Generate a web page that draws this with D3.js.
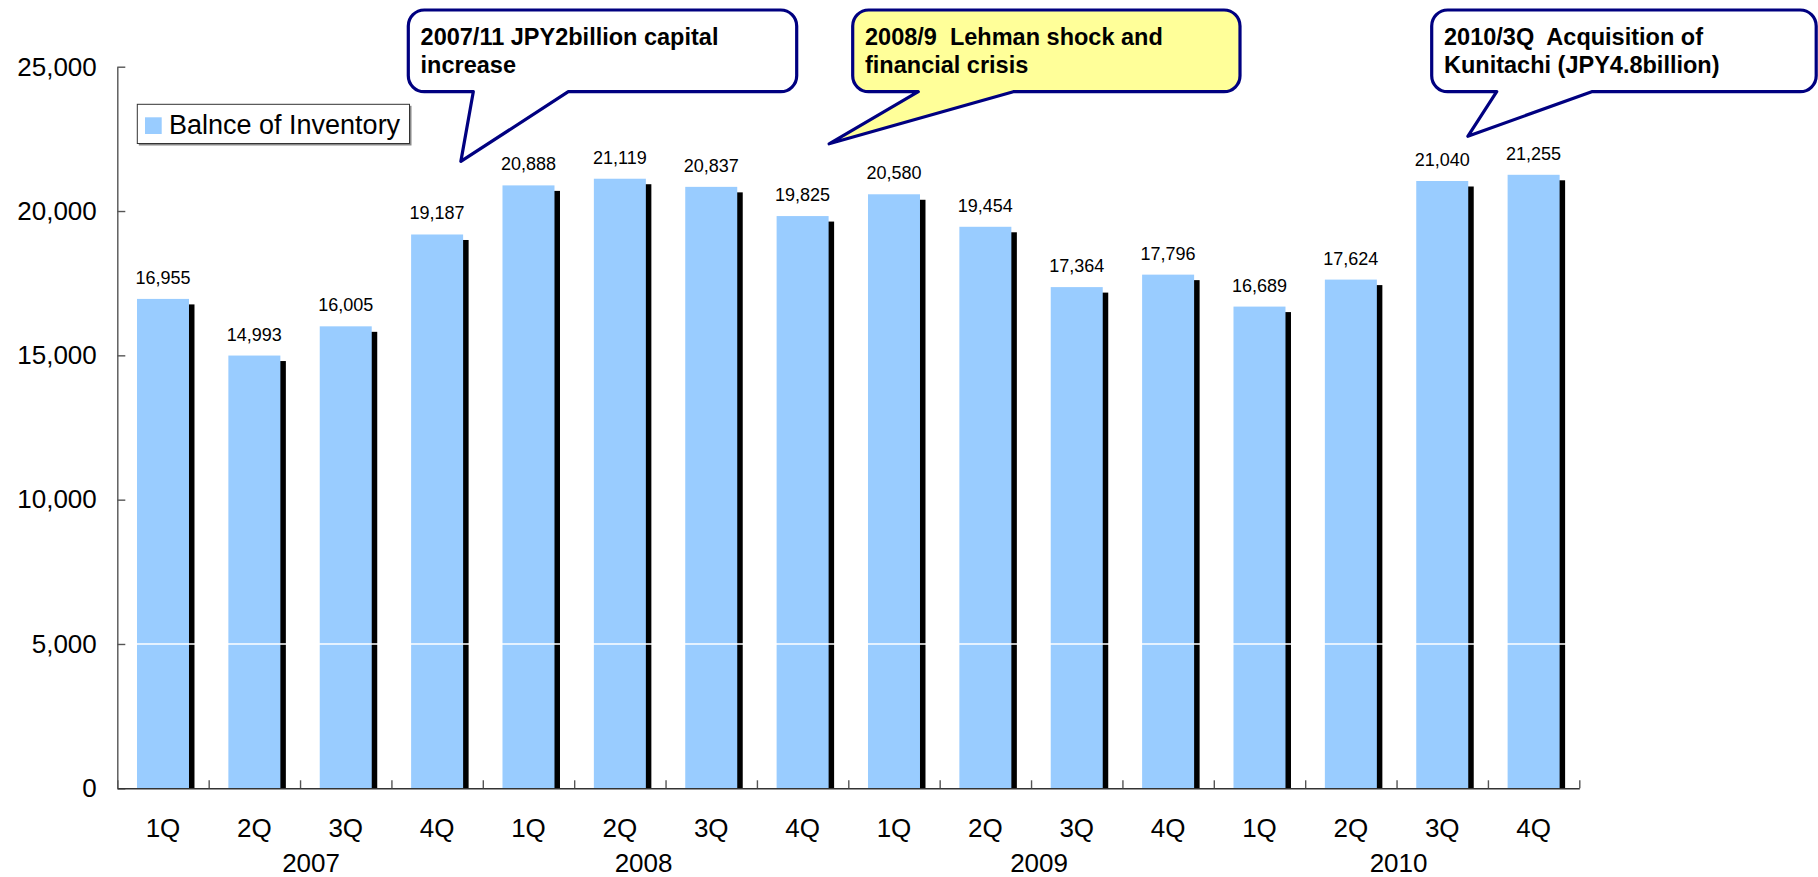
<!DOCTYPE html>
<html>
<head>
<meta charset="utf-8">
<script src="https://cdn.jsdelivr.net/npm/d3@7/dist/d3.min.js"></script>
<style>
  html, body { margin: 0; padding: 0; background: #fff; }
  svg { display: block; }
  text { font-family: "Liberation Sans", Arial, Helvetica, sans-serif; fill: #000; }
  .note text { font-weight: bold; white-space: pre; }
</style>
</head>
<body>
<svg id="chart" width="1818" height="877"></svg>
<script>
// Quarterly balance of inventory, 2007-2010 (JPY million)
const quarters = ["1Q","2Q","3Q","4Q","1Q","2Q","3Q","4Q","1Q","2Q","3Q","4Q","1Q","2Q","3Q","4Q"];
const years = ["2007","2008","2009","2010"];
const inventory = [16955,14993,16005,19187,20888,21119,20837,19825,20580,19454,17364,17796,16689,17624,21040,21255];
const yTicks = [0,5000,10000,15000,20000,25000];
const seriesName = "Balnce of Inventory";

// Event call-outs: text lines and the point they point to (band position, value)
const noteLines = [
  ["2007/11 JPY2billion capital", "increase"],
  ["2008/9  Lehman shock and", "financial crisis"],
  ["2010/3Q  Acquisition of", "Kunitachi (JPY4.8billion)"]
];
const noteAtBand = [3.76, 7.79, 14.78];
const noteAtValue = [21720, 22330, 22590];

// ---- layout ----
const plot = { left: 117.3, right: 1579.3, top: 66.7, bottom: 788.3 };
const barWidth = 52;
const shadowOffset = 5.5;
const barColor = "#99CCFF";
const yearNudge = [11, -22, 8, 2];
const noteBoxes = [
  { x0: 408.3, x1: 796.7, baseL: 473.3, baseR: 568.3, fill: "#ffffff" },
  { x0: 852.7, x1: 1240, baseL: 918.3, baseR: 1013.3, fill: "#FFFF99" },
  { x0: 1431.7, x1: 1816.2, baseL: 1496.7, baseR: 1591.7, fill: "#ffffff" }
];
const noteTop = 10, noteBottom = 91.7, noteRadius = 16;

const svg = d3.select("#chart");

const idx = d3.range(inventory.length);
const x = d3.scaleBand().domain(idx).range([plot.left, plot.right]).padding(0);
const xEdge = d3.scaleLinear().domain([0, inventory.length]).range([plot.left, plot.right]);
const y = d3.scaleLinear().domain([0, 25000]).range([plot.bottom, plot.top]);
const bw = x.bandwidth();
const barX = i => x(i) + (bw - barWidth) / 2;

// bar shadows
svg.append("g").selectAll("rect").data(inventory).join("rect")
  .attr("x", (d, i) => barX(i) + shadowOffset)
  .attr("y", d => y(d) + shadowOffset)
  .attr("width", barWidth)
  .attr("height", d => y(0) - y(d) - shadowOffset)
  .attr("fill", "#000");

// bars
svg.append("g").selectAll("rect").data(inventory).join("rect")
  .attr("x", (d, i) => barX(i))
  .attr("y", d => y(d))
  .attr("width", barWidth)
  .attr("height", d => y(0) - y(d))
  .attr("fill", barColor);

// white gridline
svg.append("line")
  .attr("x1", plot.left + 1).attr("x2", plot.right)
  .attr("y1", y(5000)).attr("y2", y(5000))
  .attr("stroke", "#fff").attr("stroke-width", 1.3);

// value labels
const fmt = d3.format(",");
svg.append("g").selectAll("text").data(inventory).join("text")
  .attr("x", (d, i) => barX(i) + barWidth / 2)
  .attr("y", d => y(d) - 15)
  .attr("text-anchor", "middle")
  .attr("font-size", 18)
  .text(d => fmt(d));

// y axis
const yAxis = svg.append("g")
  .attr("transform", `translate(${plot.left},0)`)
  .call(d3.axisLeft(y).tickValues(yTicks).tickFormat(fmt).tickSizeInner(-8).tickSizeOuter(0).tickPadding(20.5));
yAxis.select(".domain").attr("stroke", "#555").attr("stroke-width", 1.4);
yAxis.selectAll(".tick line").attr("stroke", "#555").attr("stroke-width", 1.4);
yAxis.selectAll(".tick text").attr("font-size", 26).attr("font-family", null).attr("fill", "#000");

// x axis with ticks at category edges
const xAxis = svg.append("g")
  .attr("transform", `translate(0,${plot.bottom})`)
  .call(d3.axisBottom(xEdge).tickValues(d3.range(inventory.length + 1)).tickFormat("").tickSizeInner(-8).tickSizeOuter(0));
xAxis.select(".domain").attr("stroke", "#333").attr("stroke-width", 1.6);
xAxis.selectAll(".tick line").attr("stroke", "#555").attr("stroke-width", 1.4);

// quarter labels
svg.append("g").selectAll("text").data(quarters).join("text")
  .attr("x", (d, i) => x(i) + bw / 2)
  .attr("y", plot.bottom + 48.4)
  .attr("text-anchor", "middle")
  .attr("font-size", 26)
  .text(d => d);

// year labels
svg.append("g").selectAll("text").data(years).join("text")
  .attr("x", (d, i) => xEdge(i * 4 + 2) + yearNudge[i])
  .attr("y", plot.bottom + 83.4)
  .attr("text-anchor", "middle")
  .attr("font-size", 26)
  .text(d => d);

// legend
const lg = svg.append("g").attr("transform", "translate(137.3,104.3)");
lg.append("rect").attr("x", 1.5).attr("y", 1.5).attr("width", 272.7).attr("height", 39.7).attr("fill", "#888");
lg.append("rect").attr("x", 0).attr("y", 0).attr("width", 272.2).attr("height", 39.2)
  .attr("fill", "#fff").attr("stroke", "#333").attr("stroke-width", 1);
lg.append("rect").attr("x", 7.7).attr("y", 13).attr("width", 16.7).attr("height", 16.7).attr("fill", barColor);
lg.append("text").attr("x", 31.7).attr("y", 30).attr("font-size", 27).text(seriesName);

// call-outs
function calloutPath(b, tx, ty) {
  const r = noteRadius, x0 = b.x0, x1 = b.x1, y0 = noteTop, y1 = noteBottom;
  return `M${x0 + r},${y0} H${x1 - r} A${r},${r} 0 0 1 ${x1},${y0 + r} V${y1 - r} ` +
    `A${r},${r} 0 0 1 ${x1 - r},${y1} H${b.baseR} L${tx},${ty} L${b.baseL},${y1} H${x0 + r} ` +
    `A${r},${r} 0 0 1 ${x0},${y1 - r} V${y0 + r} A${r},${r} 0 0 1 ${x0 + r},${y0} Z`;
}
noteLines.forEach((lines, k) => {
  const b = noteBoxes[k];
  const tx = xEdge(noteAtBand[k]);
  const ty = y(noteAtValue[k]);
  const g = svg.append("g").attr("class", "note");
  g.append("path").attr("d", calloutPath(b, tx, ty))
    .attr("fill", b.fill).attr("stroke", "#000080").attr("stroke-width", 3.2)
    .attr("stroke-linejoin", "round");
  lines.forEach((t, j) => {
    g.append("text").attr("x", b.x0 + 12.3).attr("y", 45 + j * 27.7)
      .attr("font-size", 23.5).text(t);
  });
});
</script>
</body>
</html>
